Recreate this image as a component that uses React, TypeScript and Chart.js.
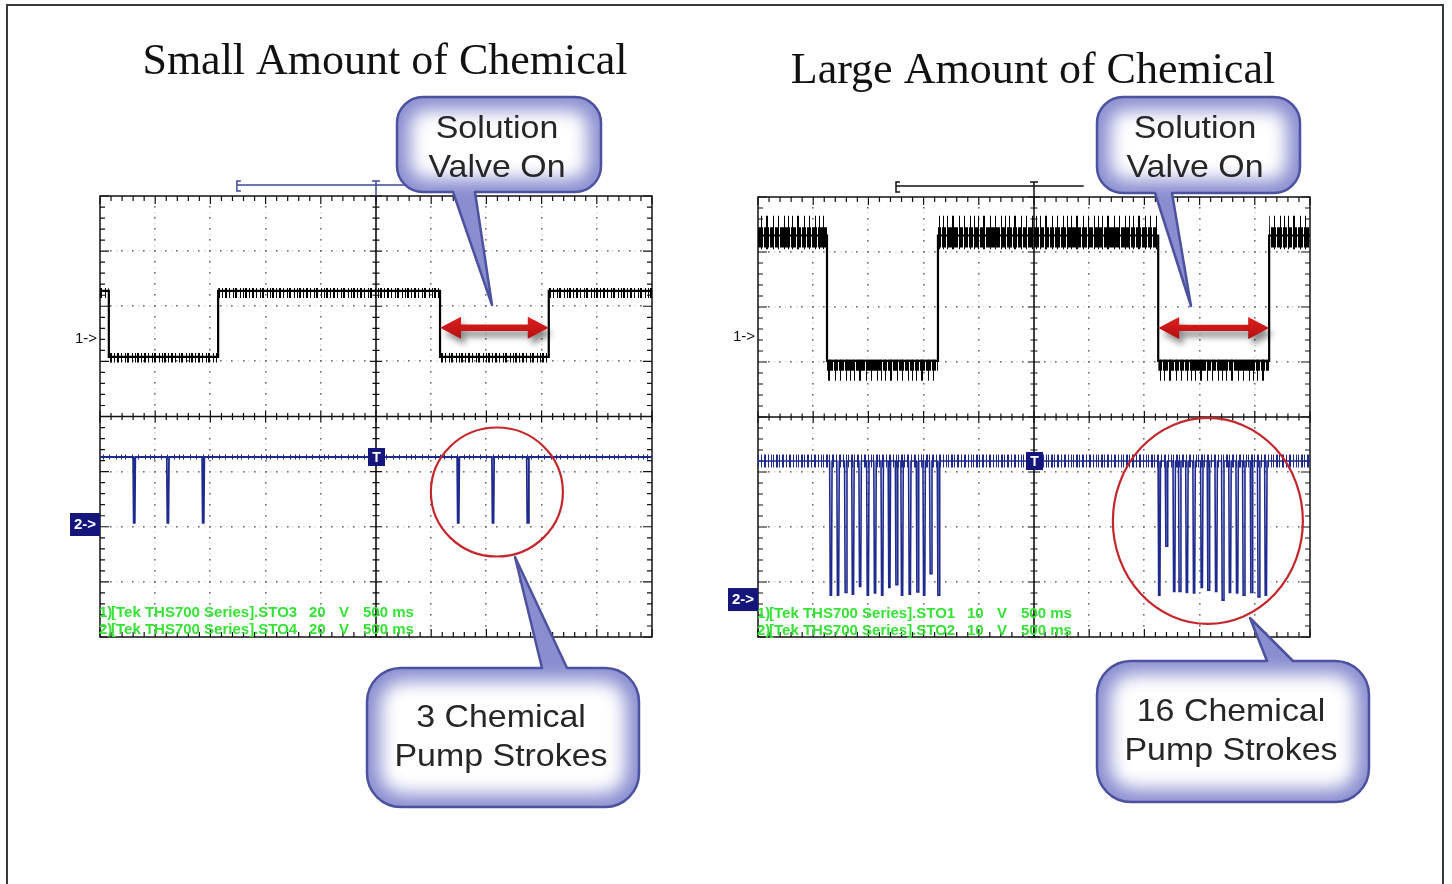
import React, { useEffect, useRef } from "react";
import { Chart, registerables } from "chart.js";
Chart.register(...registerables);

// ---------------- DATA (oscilloscope divisions: x 0..10, y -4..4) ----------------
// Small amount of chemical (left scope)
const SMALL_CH1_EDGES = [0.16, 2.14, 6.16, 8.13];
const SMALL_CH1_LEVELS = [2.28, 1.08]; // high, low
const SMALL_CH1_BANDS = [
  [2.33, 2.15],
  [1.15, 0.98],
];
const SMALL_CH2_BASE = -0.735;
const SMALL_CH2_BAND = [-0.69, -0.78];
const SMALL_CH2_SPIKES = [0.62, 1.23, 1.87, 6.49, 7.12, 7.75];
const SMALL_CH2_DEPTHS = [-1.93, -1.93, -1.93, -1.93, -1.93, -1.93];

// Large amount of chemical (right scope)
const LARGE_CH1_EDGES = [1.25, 3.26, 7.25, 9.26];
const LARGE_CH1_LEVELS = [3.3, 1.02];
const LARGE_CH1_CORE = [
  [3.45, 3.08],
  [1.04, 0.84],
];
const LARGE_CH1_SPARSE = [
  [3.66, 3.05],
  [1.04, 0.66],
];
const LARGE_CH2_BASE = -0.8;
const LARGE_CH2_BAND = [-0.68, -0.92];
const LARGE_CH2_SPIKES = [
  1.32, 1.45, 1.59, 1.72, 1.85, 1.99, 2.12, 2.25, 2.38, 2.51, 2.61, 2.75, 2.89, 3.01, 3.13, 3.27,
  7.27, 7.4, 7.54, 7.64, 7.77, 7.9, 8.04, 8.16, 8.3, 8.42, 8.55, 8.68, 8.8, 8.94, 9.07, 9.2,
];
const LARGE_CH2_DEPTHS = [
  -3.24, -3.24, -3.19, -3.22, -3.08, -3.24, -3.2, -3.24, -3.1, -3.05, -3.24, -3.22, -3.18, -3.24, -2.85, -3.24,
  -3.24, -2.35, -3.17, -3.17, -3.19, -3.2, -3.1, -3.15, -3.17, -3.33, -3.19, -3.2, -3.24, -3.19, -3.27, -3.24,
];

const TITLES = ["Small Amount of Chemical", "Large Amount of Chemical"];
const VALVE_TEXT = ["Solution", "Valve On"];
const SMALL_PUMP_TEXT = ["3 Chemical", "Pump Strokes"];
const LARGE_PUMP_TEXT = ["16 Chemical", "Pump Strokes"];
const SMALL_STATUS = [
  ["1)", "[Tek THS700 Series].STO3", "20", "V", "500 ms"],
  ["2)", "[Tek THS700 Series].STO4", "20", "V", "500 ms"],
];
const LARGE_STATUS = [
  ["1)", "[Tek THS700 Series].STO1", "10", "V", "500 ms"],
  ["2)", "[Tek THS700 Series].STO2", "10", "V", "500 ms"],
];

// ---------------- builders ----------------
function stepTrace(edges: number[], hi: number, lo: number) {
  const pts: { x: number; y: number }[] = [];
  let level = hi;
  pts.push({ x: 0, y: level });
  for (const e of edges) {
    pts.push({ x: e, y: level });
    level = level === hi ? lo : hi;
    pts.push({ x: e, y: level });
  }
  pts.push({ x: 10, y: level });
  return pts;
}

function spikeTrace(base: number, xs: number[], depths: number[], w: number) {
  const pts: { x: number; y: number }[] = [{ x: 0, y: base }];
  xs.forEach((x, i) => {
    pts.push({ x: x - w, y: base }, { x: x - w / 2, y: depths[i] }, { x: x + w / 2, y: depths[i] }, { x: x + w, y: base });
  });
  pts.push({ x: 10, y: base });
  return pts;
}

function stripePattern(color: string, cols: number[], width: number) {
  const c = document.createElement("canvas");
  c.width = width;
  c.height = 4;
  const g = c.getContext("2d")!;
  g.fillStyle = color;
  cols.forEach((cx) => g.fillRect(cx, 0, 1, 4));
  return g.createPattern(c, "repeat");
}

function bandDatasets(edges: number[], bands: number[][], fillStyle: any) {
  const bounds = [0, ...edges, 10];
  const out: any[] = [];
  for (let i = 0; i < bounds.length - 1; i++) {
    const [top, bot] = bands[i % 2];
    out.push({
      data: [
        { x: bounds[i], y: top },
        { x: bounds[i + 1], y: top },
      ],
      borderWidth: 0,
      borderColor: "rgba(0,0,0,0)",
      backgroundColor: fillStyle,
      fill: "+1",
      pointRadius: 0,
    });
    out.push({
      data: [
        { x: bounds[i], y: bot },
        { x: bounds[i + 1], y: bot },
      ],
      borderWidth: 0,
      borderColor: "rgba(0,0,0,0)",
      fill: false,
      pointRadius: 0,
    });
  }
  return out;
}

function flatBand(band: number[], fillStyle: any) {
  return [
    {
      data: [
        { x: 0, y: band[0] },
        { x: 10, y: band[0] },
      ],
      borderWidth: 0,
      borderColor: "rgba(0,0,0,0)",
      backgroundColor: fillStyle,
      fill: "+1",
      pointRadius: 0,
    },
    {
      data: [
        { x: 0, y: band[1] },
        { x: 10, y: band[1] },
      ],
      borderWidth: 0,
      borderColor: "rgba(0,0,0,0)",
      fill: false,
      pointRadius: 0,
    },
  ];
}

// ---------------- drawing helpers ----------------
function roundRectPath(ctx: CanvasRenderingContext2D, x: number, y: number, w: number, h: number, r: number) {
  ctx.beginPath();
  ctx.moveTo(x + r, y);
  ctx.lineTo(x + w - r, y);
  ctx.arcTo(x + w, y, x + w, y + r, r);
  ctx.lineTo(x + w, y + h - r);
  ctx.arcTo(x + w, y + h, x + w - r, y + h, r);
  ctx.lineTo(x + r, y + h);
  ctx.arcTo(x, y + h, x, y + h - r, r);
  ctx.lineTo(x, y + r);
  ctx.arcTo(x, y, x + r, y, r);
  ctx.closePath();
}

function bubblePath(ctx: CanvasRenderingContext2D, b: any) {
  const { x, y, w, h, r, tail } = b;
  const [ta, tb, tx, ty] = tail;
  const top = ty < y;
  ctx.beginPath();
  ctx.moveTo(x + r, y);
  if (top) {
    ctx.lineTo(ta, y);
    ctx.lineTo(tx, ty);
    ctx.lineTo(tb, y);
  }
  ctx.lineTo(x + w - r, y);
  ctx.arcTo(x + w, y, x + w, y + r, r);
  ctx.lineTo(x + w, y + h - r);
  ctx.arcTo(x + w, y + h, x + w - r, y + h, r);
  if (!top) {
    ctx.lineTo(tb, y + h);
    ctx.lineTo(tx, ty);
    ctx.lineTo(ta, y + h);
  }
  ctx.lineTo(x + r, y + h);
  ctx.arcTo(x, y + h, x, y + h - r, r);
  ctx.lineTo(x, y + r);
  ctx.arcTo(x, y, x + r, y, r);
  ctx.closePath();
}

function drawBubble(ctx: CanvasRenderingContext2D, b: any) {
  ctx.save();
  bubblePath(ctx, b);
  ctx.fillStyle = "#8a8ed0";
  ctx.fill();
  ctx.clip();
  ctx.filter = "blur(9px)";
  ctx.fillStyle = "#ffffff";
  roundRectPath(ctx, b.x + 13, b.y + 13, b.w - 26, b.h - 26, Math.max(4, b.r - 10));
  ctx.fill();
  ctx.filter = "none";
  ctx.restore();
  ctx.save();
  bubblePath(ctx, b);
  ctx.strokeStyle = "#4c529f";
  ctx.lineWidth = 2.5;
  ctx.lineJoin = "round";
  ctx.stroke();
  ctx.fillStyle = "#262626";
  ctx.font = '32px "Liberation Sans", Arial, sans-serif';
  ctx.textAlign = "center";
  ctx.textBaseline = "alphabetic";
  b.lines.forEach((t: string, i: number) => {
    ctx.save();
    ctx.translate(b.tx, b.ty[i]);
    ctx.scale(1.06, 1);
    ctx.fillText(t, 0, 0);
    ctx.restore();
  });
  ctx.restore();
}

function drawArrow(ctx: CanvasRenderingContext2D, x1: number, x2: number, y: number) {
  const hl = 21,
    hw = 11,
    sw = 3.2;
  ctx.save();
  ctx.shadowColor = "rgba(0,0,0,0.45)";
  ctx.shadowBlur = 6;
  ctx.shadowOffsetX = 4;
  ctx.shadowOffsetY = 6;
  ctx.beginPath();
  ctx.moveTo(x1, y);
  ctx.lineTo(x1 + hl, y - hw);
  ctx.lineTo(x1 + hl, y - sw);
  ctx.lineTo(x2 - hl, y - sw);
  ctx.lineTo(x2 - hl, y - hw);
  ctx.lineTo(x2, y);
  ctx.lineTo(x2 - hl, y + hw);
  ctx.lineTo(x2 - hl, y + sw);
  ctx.lineTo(x1 + hl, y + sw);
  ctx.lineTo(x1 + hl, y + hw);
  ctx.closePath();
  const g = ctx.createLinearGradient(0, y - hw, 0, y + hw);
  g.addColorStop(0, "#e02020");
  g.addColorStop(1, "#b30e0e");
  ctx.fillStyle = g;
  ctx.fill();
  ctx.restore();
}

function makeScopePlugin(deco: any) {
  return {
    id: "scope" + deco.key,
    beforeDatasetsDraw(chart: any) {
      const { ctx, chartArea: a, scales } = chart;
      const X = scales.x,
        Y = scales.y;
      ctx.save();
      // dotted graticule
      for (let i = 1; i < 10; i++) {
        if (i === 5) continue;
        const px = Math.round(X.getPixelForValue(i));
        for (let k = 1; k < 40; k++) {
          const py = Math.round(Y.getPixelForValue(-4 + k * 0.2));
          ctx.fillStyle = "#6e6e6e";
          ctx.fillRect(px - 1, py - 1, 1.6, 1.6);
          const pz = Math.round(Y.getPixelForValue(-4 + k * 0.2 - 0.1));
          ctx.fillStyle = "#e0e0e0";
          ctx.fillRect(px - 1, pz - 1, 1.6, 1.6);
        }
      }
      for (let j = -3; j <= 3; j++) {
        if (j === 0) continue;
        const py = Math.round(Y.getPixelForValue(j));
        for (let k = 1; k < 50; k++) {
          const px = Math.round(X.getPixelForValue(k * 0.2));
          ctx.fillStyle = "#6e6e6e";
          ctx.fillRect(px - 1, py - 1, 1.6, 1.6);
          const pz = Math.round(X.getPixelForValue(k * 0.2 - 0.1));
          ctx.fillStyle = "#e0e0e0";
          ctx.fillRect(pz - 1, py - 1, 1.6, 1.6);
        }
      }
      // center cross
      const cx = X.getPixelForValue(5);
      const cy = Y.getPixelForValue(0);
      ctx.strokeStyle = "#111";
      ctx.lineWidth = 1.6;
      ctx.beginPath();
      ctx.moveTo(a.left, cy);
      ctx.lineTo(a.right, cy);
      ctx.moveTo(cx, a.top);
      ctx.lineTo(cx, a.bottom);
      ctx.stroke();
      ctx.lineWidth = 1.2;
      ctx.beginPath();
      for (let k = 0; k <= 50; k++) {
        const px = X.getPixelForValue(k * 0.2);
        const major = k % 5 === 0;
        const c = major ? 6 : 3.5;
        ctx.moveTo(px, cy - c);
        ctx.lineTo(px, cy + c);
        const e = major ? 8 : 5;
        ctx.moveTo(px, a.top);
        ctx.lineTo(px, a.top + e);
        ctx.moveTo(px, a.bottom);
        ctx.lineTo(px, a.bottom - e);
      }
      for (let k = 0; k <= 40; k++) {
        const py = Y.getPixelForValue(-4 + k * 0.2);
        const major = k % 5 === 0;
        const c = major ? 6 : 3.5;
        ctx.moveTo(cx - c, py);
        ctx.lineTo(cx + c, py);
        const e = major ? 9 : 5;
        ctx.moveTo(a.left, py);
        ctx.lineTo(a.left + e, py);
        ctx.moveTo(a.right, py);
        ctx.lineTo(a.right - e, py);
      }
      ctx.stroke();
      ctx.lineWidth = 1.5;
      ctx.strokeRect(a.left, a.top, a.right - a.left, a.bottom - a.top);
      ctx.restore();
    },
    afterDatasetsDraw(chart: any) {
      const { ctx, chartArea: a, scales } = chart;
      const X = scales.x,
        Y = scales.y;
      ctx.save();
      // title
      ctx.fillStyle = "#111";
      ctx.font = '44px "Liberation Serif", "Times New Roman", serif';
      ctx.textAlign = "center";
      ctx.textBaseline = "alphabetic";
      ctx.fillText(deco.title, deco.titleX, deco.titleY);

      // timebase bracket
      ctx.strokeStyle = deco.bracketColor;
      ctx.lineWidth = 1.5;
      const bx = X.getPixelForValue(deco.bracketStart);
      const tx = X.getPixelForValue(5);
      const by = a.top - 11;
      ctx.beginPath();
      ctx.moveTo(bx + 4, a.top - 15);
      ctx.lineTo(bx, a.top - 15);
      ctx.lineTo(bx, a.top - 5);
      ctx.lineTo(bx + 4, a.top - 5);
      ctx.moveTo(bx, by);
      ctx.lineTo(X.getPixelForValue(5.9), by);
      ctx.moveTo(tx - 4, a.top - 15);
      ctx.lineTo(tx + 4, a.top - 15);
      ctx.moveTo(tx, a.top - 15);
      ctx.lineTo(tx, a.top);
      ctx.stroke();

      // channel labels
      ctx.fillStyle = "#111";
      ctx.font = '15px "Liberation Sans", Arial, sans-serif';
      ctx.textAlign = "right";
      ctx.textBaseline = "middle";
      ctx.fillText("1->", a.left - 3, Y.getPixelForValue(deco.ch1Mark));
      const y2 = Y.getPixelForValue(deco.ch2Mark);
      ctx.fillStyle = "#15157c";
      ctx.fillRect(a.left - 30, y2 - 11, 30, 23);
      ctx.fillStyle = "#fff";
      ctx.font = 'bold 15px "Liberation Sans", Arial, sans-serif';
      ctx.textAlign = "center";
      ctx.fillText("2->", a.left - 15, y2 + 1);
      // trigger marker
      const ty = Y.getPixelForValue(deco.trigY);
      ctx.fillStyle = "#15157c";
      ctx.fillRect(tx - 8, ty - 9, 17, 18);
      ctx.fillStyle = "#fff";
      ctx.font = 'bold 14px "Liberation Sans", Arial, sans-serif';
      ctx.fillText("T", tx + 0.5, ty + 1);

      // status text
      ctx.fillStyle = "#36e236";
      ctx.font = 'bold 15px "Liberation Sans", Arial, sans-serif';
      ctx.textAlign = "left";
      ctx.textBaseline = "alphabetic";
      const offs = [-1, 11, 209, 239, 263];
      deco.status.forEach((row: string[], r: number) => {
        row.forEach((t: string, i: number) => {
          ctx.fillText(t, a.left + offs[i], deco.statusY[r]);
        });
      });

      // red ellipse around pump strokes
      ctx.strokeStyle = "#c4262b";
      ctx.lineWidth = 2.2;
      ctx.beginPath();
      ctx.ellipse(X.getPixelForValue(deco.circle[0]), Y.getPixelForValue(deco.circle[1]), deco.circle[2], deco.circle[3], 0, 0, Math.PI * 2);
      ctx.stroke();

      // valve-on arrow
      drawArrow(ctx, X.getPixelForValue(deco.arrow[0]), X.getPixelForValue(deco.arrow[1]), Y.getPixelForValue(deco.arrow[2]));

      // callouts
      deco.bubbles.forEach((b: any) => drawBubble(ctx, b));
      ctx.restore();
    },
  };
}

function ScopeCanvas({ deco, datasets, pad, left }: any) {
  const ref = useRef<HTMLCanvasElement>(null);
  useEffect(() => {
    const chart = new Chart(ref.current!, {
      type: "line",
      data: { datasets: datasets() },
      options: {
        animation: false,
        responsive: false,
        devicePixelRatio: 1,
        events: [],
        layout: { padding: pad },
        elements: { point: { radius: 0 }, line: { tension: 0 } },
        plugins: { legend: { display: false }, tooltip: { enabled: false }, title: { display: false } },
        scales: {
          x: { type: "linear", min: 0, max: 10, display: false },
          y: { type: "linear", min: -4, max: 4, display: false },
        },
      } as any,
      plugins: [makeScopePlugin(deco)],
    });
    return () => chart.destroy();
  }, []);
  return <canvas ref={ref} width={726} height={884} style={{ position: "absolute", left, top: 0, width: 726, height: 884 }} />;
}

export default function App() {
  const smallDeco = {
    key: "S",
    title: TITLES[0],
    titleX: 385,
    titleY: 74,
    bracketStart: 2.48,
    bracketColor: "#3d4a9c",
    ch1Mark: 1.41,
    ch2Mark: -1.95,
    trigY: SMALL_CH2_BASE,
    status: SMALL_STATUS,
    statusY: [617, 634],
    circle: [7.19, -1.37, 66, 64.5],
    arrow: [SMALL_CH1_EDGES[2], SMALL_CH1_EDGES[3], 1.61],
    bubbles: [
      { x: 397, y: 97, w: 204, h: 95, r: 26, tail: [453, 475, 492, 305], lines: VALVE_TEXT, tx: 497, ty: [138, 177] },
      { x: 367, y: 668, w: 272, h: 139, r: 34, tail: [542, 567, 515, 557], lines: SMALL_PUMP_TEXT, tx: 501, ty: [727, 766] },
    ],
  };
  const largeDeco = {
    key: "L",
    title: TITLES[1],
    titleX: 1033 - 726,
    titleY: 83,
    bracketStart: 2.5,
    bracketColor: "#111",
    ch1Mark: 1.45,
    ch2Mark: -3.31,
    trigY: LARGE_CH2_BASE,
    status: LARGE_STATUS,
    statusY: [618, 635],
    circle: [8.15, -1.89, 95, 103],
    arrow: [LARGE_CH1_EDGES[2], LARGE_CH1_EDGES[3], 1.62],
    bubbles: [
      { x: 371, y: 97, w: 203, h: 96, r: 26, tail: [429, 446, 465, 306], lines: VALVE_TEXT, tx: 469, ty: [138, 177] },
      { x: 371, y: 661, w: 272, h: 141, r: 34, tail: [541, 567, 524, 618], lines: LARGE_PUMP_TEXT, tx: 505, ty: [721, 760] },
    ],
  };

  const smallData = () => {
    const blackStripes = stripePattern("#000", [0, 2, 3, 6, 9, 10, 13, 17, 19, 20, 24], 27);
    const navyStripes = stripePattern("#1f2a8f", [0, 5, 9, 16, 22], 29);
    return [
      { data: stepTrace(SMALL_CH1_EDGES, SMALL_CH1_LEVELS[0], SMALL_CH1_LEVELS[1]), borderColor: "#000", borderWidth: 2.2, fill: false, pointRadius: 0 },
      { data: spikeTrace(SMALL_CH2_BASE, SMALL_CH2_SPIKES, SMALL_CH2_DEPTHS, 0.02), borderColor: "#1f2a8f", borderWidth: 1.8, fill: false, pointRadius: 0 },
      ...bandDatasets(SMALL_CH1_EDGES, SMALL_CH1_BANDS, blackStripes),
      ...flatBand(SMALL_CH2_BAND, navyStripes),
    ];
  };
  const largeData = () => {
    const dense = stripePattern("#000", [0, 1, 2, 3, 5, 6, 7, 8, 9, 11, 12, 13, 14, 15, 17, 18, 19, 20, 22, 23, 24, 25], 27);
    const sparse = stripePattern("#000", [0, 4, 9, 10, 16, 21, 27], 31);
    const navy = stripePattern("#1f2a8f", [0, 1, 3, 6, 7, 10, 13, 14, 17, 20, 22], 25);
    return [
      { data: stepTrace(LARGE_CH1_EDGES, LARGE_CH1_LEVELS[0], LARGE_CH1_LEVELS[1]), borderColor: "#000", borderWidth: 2.2, fill: false, pointRadius: 0 },
      { data: spikeTrace(LARGE_CH2_BASE, LARGE_CH2_SPIKES, LARGE_CH2_DEPTHS, 0.022), borderColor: "#1f2a8f", borderWidth: 1.6, fill: false, pointRadius: 0 },
      ...bandDatasets(LARGE_CH1_EDGES, LARGE_CH1_CORE, dense),
      ...bandDatasets(LARGE_CH1_EDGES, LARGE_CH1_SPARSE, sparse),
      ...flatBand(LARGE_CH2_BAND, navy),
    ];
  };

  return (
    <div style={{ position: "absolute", left: 0, top: 0, width: 1452, height: 884, overflow: "hidden", background: "#fff" }}>
      <div style={{ position: "absolute", left: 6, top: 4, width: 1438, height: 900, border: "2px solid #3a3a3a", boxSizing: "border-box" }} />
      <ScopeCanvas deco={smallDeco} datasets={smallData} pad={{ left: 100, right: 74, top: 196, bottom: 247 }} left={0} />
      <ScopeCanvas deco={largeDeco} datasets={largeData} pad={{ left: 32, right: 142, top: 197, bottom: 247 }} left={726} />
    </div>
  );
}
